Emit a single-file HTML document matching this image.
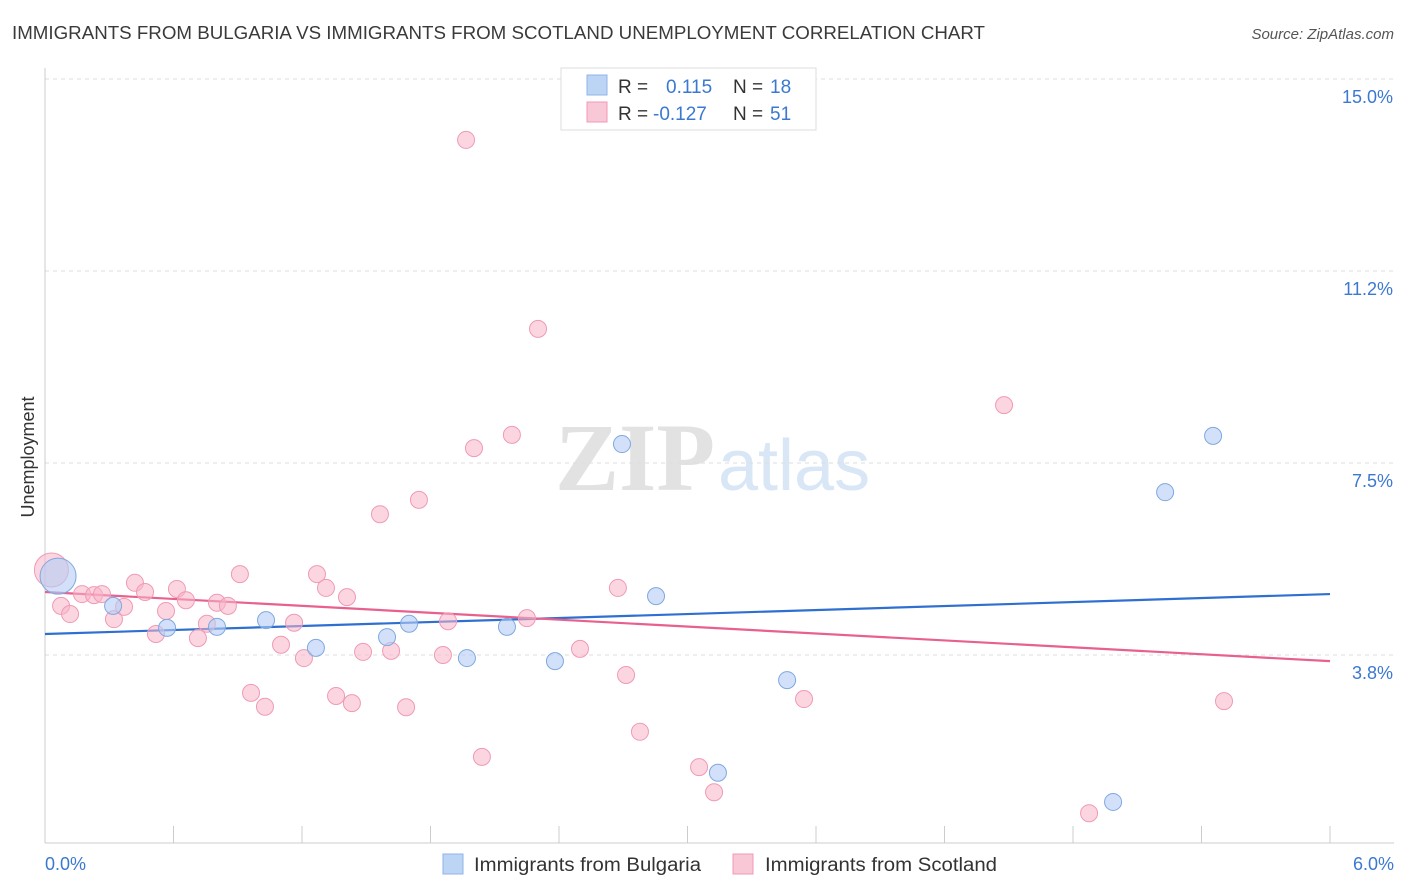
<!DOCTYPE html>
<html><head><meta charset="utf-8"><style>
body{margin:0;background:#fff;font-family:"Liberation Sans",sans-serif}
svg{display:block}
</style></head><body>
<svg id="chart" width="1406" height="892">
<text x="12" y="39" font-size="18" fill="#3a3a3a" textLength="973" lengthAdjust="spacingAndGlyphs">IMMIGRANTS FROM BULGARIA VS IMMIGRANTS FROM SCOTLAND UNEMPLOYMENT CORRELATION CHART</text>
<text x="1394" y="39" font-size="15" fill="#555" font-style="italic" text-anchor="end">Source: ZipAtlas.com</text>
<text x="34" y="457" font-size="18" fill="#333" text-anchor="middle" transform="rotate(-90 34 457)">Unemployment</text>
<g><text x="555" y="490" font-size="96" fill="#e2e2e2" font-family="Liberation Serif,serif" font-weight="bold">ZIP</text><text x="718" y="490" font-size="72" fill="#d8e6f6">atlas</text></g>
<g id="grid"></g><g id="trend"></g><g id="pts"></g>
<g>
<rect x="561" y="68" width="255" height="62" fill="#fff" stroke="#ddd"/>
<rect x="587" y="75" width="20" height="20" fill="#bcd5f5" stroke="#8fb3e8"/>
<rect x="587" y="102" width="20" height="20" fill="#f9c8d6" stroke="#f09ab5"/>
<text x="618" y="93" font-size="19" fill="#333">R = </text><text x="666" y="93" font-size="19" fill="#3b78d0">0.115</text>
<text x="733" y="93" font-size="19" fill="#333">N = </text><text x="770" y="93" font-size="19" fill="#3b78d0">18</text>
<text x="618" y="120" font-size="19" fill="#333">R = </text><text x="653" y="120" font-size="19" fill="#3b78d0">-0.127</text>
<text x="733" y="120" font-size="19" fill="#333">N = </text><text x="770" y="120" font-size="19" fill="#3b78d0">51</text>
</g>
<g>
<rect x="443" y="854" width="20" height="20" fill="#bcd5f5" stroke="#8fb3e8"/>
<text x="474" y="871" font-size="19" fill="#333" textLength="227" lengthAdjust="spacingAndGlyphs">Immigrants from Bulgaria</text>
<rect x="733" y="854" width="20" height="20" fill="#f9c8d6" stroke="#f09ab5"/>
<text x="765" y="871" font-size="19" fill="#333" textLength="232" lengthAdjust="spacingAndGlyphs">Immigrants from Scotland</text>
</g>
</svg>
<script>
const yTicks=[3.75,7.5,11.25,15];
const yTickLabels=["3.8%","7.5%","11.2%","15.0%"];
const xTickLabels=["0.0%","6.0%"];
const blueX=[0.061,0.318,0.570,0.803,1.032,1.265,1.597,1.700,1.970,2.157,2.381,2.694,2.853,3.465,3.142,4.987,5.230,5.454];
const blueY=[5.29,4.71,4.28,4.30,4.43,3.89,4.10,4.36,3.69,4.30,3.63,7.87,4.90,3.26,1.45,0.88,6.93,8.03];
const pinkX=[0.03,0.075,0.117,0.173,0.229,0.266,0.322,0.369,0.420,0.467,0.518,0.565,0.616,0.658,0.714,0.756,0.803,0.854,0.910,0.962,1.027,1.102,1.163,1.209,1.270,1.312,1.359,1.410,1.433,1.485,1.564,1.616,1.686,1.746,1.858,1.882,1.966,2.003,2.040,2.180,2.250,2.302,2.498,2.675,2.713,2.778,3.054,3.124,3.544,4.478,4.875,5.505];
const pinkY=[5.41,4.71,4.55,4.94,4.92,4.94,4.45,4.69,5.16,4.98,4.16,4.61,5.04,4.82,4.08,4.36,4.77,4.71,5.33,3.01,2.74,3.95,4.38,3.69,5.33,5.06,2.95,4.88,2.81,3.81,6.50,3.83,2.73,6.78,3.75,4.41,13.81,7.79,1.76,8.05,4.47,10.12,3.87,5.06,3.36,2.25,1.56,1.07,2.89,8.63,0.66,2.85];
const blueTrend=[4.16,4.94];
const pinkTrend=[4.98,3.63];
const sx=v=>45+v*214.17, sy=v=>79+(15-v)*51.2;
const NS="http://www.w3.org/2000/svg";
function mk(t,a,p){const e=document.createElementNS(NS,t);for(const k in a)e.setAttribute(k,a[k]);p.appendChild(e);return e;}
const grid=document.getElementById('grid');
yTicks.forEach((t,i)=>{
 const l=mk('line',{x1:45,x2:1394,y1:sy(t),y2:sy(t),stroke:'#ddd','stroke-dasharray':'4 4'},grid);
 
 
 const tx=mk('text',{x:1393,y:sy(t)+24,'font-size':18,fill:'#3b78d0','text-anchor':'end'},grid);
 tx.textContent=yTickLabels[i];
 
 
});
const ax=mk('line',{x1:45,x2:1394,y1:843,y2:843,stroke:'#ccc'},grid);


const ay=mk('line',{x1:45,x2:45,y1:68,y2:843,stroke:'#ccc'},grid);


for(let i=0;i<=10;i++){const x=45+i*128.5;const t=mk('line',{x1:x,x2:x,y1:826,y2:843,stroke:'#ccc'},grid);
 
 }
[[0,'start',45],[6,'end',1394]].forEach((d,i)=>{const t=mk('text',{x:d[2],y:870,'font-size':18,fill:'#3b78d0','text-anchor':d[1]},grid);t.textContent=xTickLabels[i];
 
 });
const tr=document.getElementById('trend');
const bl=mk('line',{x1:sx(0),x2:sx(6),y1:sy(blueTrend[0]),y2:sy(blueTrend[1]),stroke:'#2f6fd0','stroke-width':2.2},tr);


const pl=mk('line',{x1:sx(0),x2:sx(6),y1:sy(pinkTrend[0]),y2:sy(pinkTrend[1]),stroke:'#e8608e','stroke-width':2.2},tr);


const pts=document.getElementById('pts');
pinkX.forEach((x,i)=>{const c=mk('circle',{cx:sx(x),cy:sy(pinkY[i]),r:i===0?17:8.5,fill:'rgba(248,180,200,0.55)',stroke:'#f09ab5','stroke-width':1},pts);
 
 });
blueX.forEach((x,i)=>{const c=mk('circle',{cx:sx(x),cy:sy(blueY[i]),r:i===0?18:8.5,fill:'rgba(180,205,245,0.6)',stroke:'#7fa8e0','stroke-width':1},pts);
 
 });
</script>
</body></html>
